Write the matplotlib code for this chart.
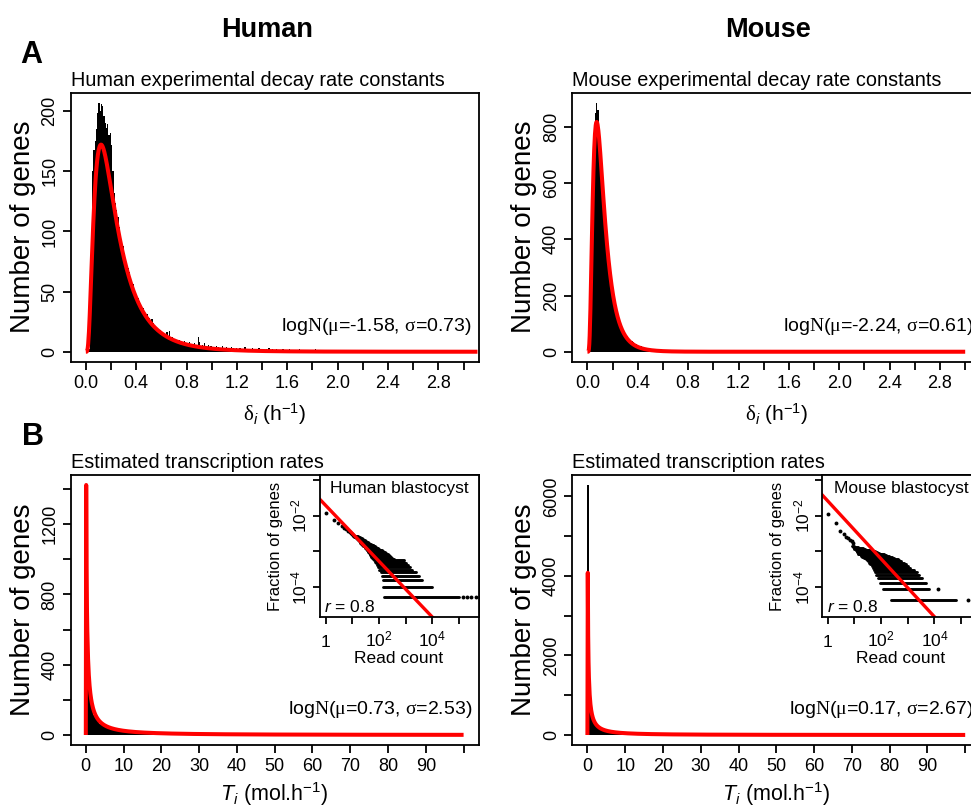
import numpy as np
import matplotlib
matplotlib.use('Agg')
import matplotlib.pyplot as plt
from matplotlib.ticker import NullLocator
from matplotlib.transforms import blended_transform_factory

plt.rcParams['font.family'] = ['Liberation Sans', 'DejaVu Sans']
plt.rcParams['mathtext.fontset'] = 'custom'
plt.rcParams['mathtext.rm'] = 'Liberation Serif'
plt.rcParams['mathtext.it'] = 'Liberation Sans:italic'
plt.rcParams['mathtext.sf'] = 'Liberation Sans'
plt.rcParams['mathtext.bf'] = 'Liberation Sans:bold'

# ---------------- data ----------------
# Panel A: decay rate constants histograms (bin width 0.01 h^-1, from 0)
decay_bin_width = 0.01
human_decay_counts = [
    0, 0, 2, 40, 100, 150, 168, 175, 185, 198,
    207, 200, 206, 204, 196, 190, 186, 189, 180, 182,
    172, 150, 132, 124, 118, 112, 104, 98, 92, 88,
    82, 78, 74, 70, 66, 62, 58, 56, 52, 50,
    47, 45, 42, 40, 38, 36, 34, 32, 31, 29,
    28, 26, 27, 24, 22, 21, 20, 19, 17, 18,
    16, 15, 15, 14, 16, 13, 17, 11, 12, 10,
    10, 11, 9, 9, 10, 8, 8, 7, 9, 7,
    7, 6, 8, 6, 6, 5, 7, 6, 5, 12,
    8, 5, 6, 5, 7, 5, 4, 6, 4, 5,
    4, 4, 3, 5, 3, 4, 3, 3, 5, 2, 3, 4, 2, 3, 3, 4, 2, 3, 2, 3,
    2, 2, 3, 2, 2, 1, 4, 2, 1, 2, 2, 1, 3, 1, 2, 1, 2, 3, 1, 1,
    2, 1, 1, 2, 1, 3, 1, 1, 2, 1,
    1, 2, 1, 0, 1, 1, 2, 0, 1, 1, 0, 2, 1, 1, 0, 1, 1, 0, 1, 2,
    0, 1, 0, 1, 1, 0, 1, 0, 1, 1,
    0, 1, 2, 0, 1, 0, 0, 1, 1, 0, 1, 0, 1, 0, 0, 1, 0, 1, 1, 0,
    0, 1, 0, 1, 0, 0, 1, 0, 1, 0,
    1, 0, 0, 1, 0, 1, 0, 0, 1, 0, 0, 1, 0, 1, 0, 0, 0, 1, 0, 1,
    0, 0, 1, 0, 0, 1, 0, 0, 1, 0,
    0, 1, 0, 0, 1, 0, 0, 0, 1, 0, 1, 0, 0, 0, 1, 0, 0, 1, 0, 0,
    0, 1, 0, 0, 1, 0, 0, 0, 1, 0,
    0, 1, 0, 0, 0, 1, 0, 0, 1, 0, 0, 0, 1, 0, 0, 0, 1, 0, 0, 1,
    0, 0, 0, 1, 0, 0, 0, 1, 0, 1,
]
mouse_decay_counts = [
    0, 40, 200, 450, 680, 800, 850, 886, 860, 790,
    700, 630, 560, 500, 445, 392, 345, 302, 265, 232,
    204, 180, 158, 140, 124, 110, 98, 88, 78, 70,
    62, 56, 50, 45, 41, 37, 33, 30, 27, 25,
    22, 20, 19, 17, 16, 14, 13, 12, 11, 10,
    9, 8, 8, 7, 7, 6, 6, 5, 5, 4,
    4, 4, 3, 4, 3, 3, 3, 2, 3, 2,
    2, 2, 2, 1, 2, 1, 1, 1, 2, 1,
    1, 1, 0, 1, 1, 0, 1, 1, 0, 1, 0, 1, 0, 0, 1, 0, 0, 1, 0, 0,
    1, 0, 0, 1, 0, 0, 0, 1, 0, 0, 0, 1, 0, 0, 0, 0, 1, 0, 0, 0,
    0, 0, 1, 0, 0, 0, 0, 0, 1, 0, 0, 0, 0, 1, 0, 0, 0, 0, 0, 0,
    1, 0, 0, 0, 0, 0, 0, 1, 0, 0, 0, 0, 0, 0, 0, 1, 0, 0, 0, 0,
    0, 0, 0, 1, 0, 0, 0, 0, 0, 0, 0, 0, 1, 0, 0, 0, 0, 0, 0, 0,
    0, 1, 0, 0, 0, 0, 0, 0, 0, 0, 1, 0, 0, 0, 0, 0, 0, 0, 0, 1,
    0, 0, 0, 0, 0, 0, 0, 0, 0, 0, 0, 1, 0, 0, 0, 0, 0, 0, 0, 0,
    0, 0, 0, 0, 0, 1, 0, 0, 0, 0, 0, 0, 0, 0, 0, 0, 0, 0, 0, 1,
    0, 0, 0, 0, 0, 0, 0, 0, 0, 0, 0, 0, 0, 1, 0, 0, 0, 0, 0, 0,
    0, 0, 0, 0, 0, 0, 0, 0, 0, 0, 0, 0, 0, 0, 0, 0, 1, 0, 0, 0,
    0, 0, 0, 0, 0, 0, 0, 0, 0, 0, 0, 0, 0, 0, 0, 0, 0, 0, 0, 1,
]
# lognormal fits (mu, sigma) and the scaling (genes x bin width) of the fitted curve
human_decay_fit = (-1.58, 0.73, 49.7)
mouse_decay_fit = (-2.24, 0.61, 110.5)

# Panel B: transcription rate histograms (bin width 0.4 mol/h, from 0)
transc_bin_width = 0.4
human_transc_counts = [
    1418, 380, 245, 180, 142, 116, 97, 83, 72, 64,
    58, 52, 48, 44, 40, 37, 35, 32, 30, 29,
    27, 26, 24, 23, 22, 21, 20, 19, 19, 18,
    17, 17, 16, 15, 15, 14, 14, 13, 13, 12,
    12, 12, 11, 11, 11, 10, 10, 10, 9, 9,
    9, 9, 8, 8, 8, 8, 8, 7, 7, 7,
    7, 7, 7, 6, 6, 6, 6, 6, 6, 6,
    5, 6, 5, 5, 5, 5, 5, 5, 5, 4,
    5, 4, 4, 4, 5, 4, 4, 4, 4, 4,
    3, 4, 4, 3, 4, 3, 3, 4, 3, 3,
    3, 3, 3, 3, 3, 3, 2, 3, 3, 3,
    2, 3, 2, 3, 3, 2, 2, 3, 2, 2,
    3, 2, 2, 2, 3, 2, 2, 2, 2, 2,
    2, 2, 1, 2, 2, 2, 2, 1, 2, 2,
    2, 1, 2, 2, 1, 2, 2, 2, 1, 2,
    1, 2, 1, 2, 1, 1, 2, 1, 2, 1,
    1, 2, 1, 1, 2, 1, 1, 1, 2, 1,
    1, 1, 2, 1, 1, 1, 1, 2, 1, 1,
    1, 1, 1, 2, 1, 1, 1, 1, 1, 1,
    2, 1, 1, 1, 1, 1, 0, 1, 1, 1,
    1, 1, 1, 0, 1, 1, 1, 1, 0, 1,
    1, 1, 0, 1, 1, 1, 0, 1, 1, 0,
    1, 1, 1, 0, 1, 0, 1, 1, 0, 1,
    1, 0, 1, 1, 0, 1, 0, 1, 1, 0,
    1, 0, 1, 0, 1, 1, 0, 1, 0, 1,
]
mouse_transc_counts = [
    6284, 850, 530, 380, 290, 235, 195, 165, 145, 128,
    115, 104, 92, 84, 78, 72, 67, 63, 59, 56,
    53, 50, 48, 45, 43, 41, 39, 38, 36, 35,
    33, 32, 31, 30, 29, 28, 27, 26, 25, 24,
    24, 23, 22, 22, 21, 20, 20, 19, 19, 18,
    18, 17, 17, 16, 16, 16, 15, 15, 15, 14,
    14, 14, 13, 13, 13, 12, 12, 12, 12, 11,
    11, 11, 11, 10, 10, 10, 10, 10, 9, 9,
    9, 9, 9, 9, 8, 8, 8, 8, 8, 8,
    7, 7, 7, 7, 7, 7, 7, 6, 6, 6,
    6, 6, 6, 6, 6, 6, 5, 5, 5, 5,
    5, 5, 5, 5, 5, 5, 4, 4, 4, 4,
    4, 4, 4, 4, 4, 4, 4, 4, 4, 4,
    3, 3, 3, 3, 3, 3, 3, 3, 3, 3,
    3, 3, 3, 3, 3, 3, 3, 3, 3, 3,
    3, 3, 2, 3, 3, 2, 3, 2, 3, 2,
    2, 3, 2, 2, 3, 2, 2, 2, 3, 2,
    2, 2, 2, 3, 2, 2, 2, 2, 2, 2,
    2, 2, 2, 2, 2, 1, 2, 2, 2, 2,
    2, 2, 1, 2, 2, 2, 1, 2, 2, 2,
    1, 2, 2, 1, 2, 2, 1, 2, 1, 2,
    2, 1, 2, 1, 2, 1, 2, 2, 1, 2,
    1, 2, 1, 2, 1, 1, 2, 1, 2, 1,
    1, 2, 1, 1, 2, 1, 1, 2, 1, 1,
    2, 1, 1, 1, 2, 1, 1, 1, 2, 1,
]
human_transc_fit = (0.73, 2.53, 1850.0)
mouse_transc_fit = (0.17, 2.67, 4190.0)

# Insets: read-count frequency (number of genes k sharing a read count)
human_total_genes = 19500
human_low_reads = [1, 2, 3, 4, 5, 6, 7, 8, 9, 10, 11]
human_low_k = [234, 155, 120, 102, 91, 82, 76, 70, 66, 61, 58]
human_row_k = [1, 2, 3, 4, 5, 6, 7, 8, 9, 10, 11, 12, 13, 14, 15, 16, 17, 18, 19, 20,
               21, 22, 23, 24, 25, 26, 27, 28, 29, 30, 32, 34, 36, 38, 40, 43, 46, 50, 54]
human_row_lo = [155, 148, 141, 132, 120, 105, 95, 85, 76, 69, 63, 60, 56, 52, 50, 48, 45, 43, 40, 38,
                37, 35, 33, 32, 30, 29, 27, 26, 25, 24, 22, 20, 19, 18, 17, 15, 14, 12, 11]
human_row_hi = [100000, 9550, 4270, 3160, 2400, 1780, 1410, 1200, 1000, 870, 870, 355, 316, 282, 250,
                230, 215, 190, 166, 141, 126, 112, 102, 93, 86, 79, 73, 68, 62, 58, 50, 43, 38, 34,
                30, 26, 23, 19, 16]
human_sparse_reads = [140000, 200000, 280000, 440000]
human_sparse_k = [1, 1, 1, 1]
human_powerlaw = (-1.698, -0.787)   # log10 intercept, slope

mouse_total_genes = 22900
mouse_low_reads = [1, 2, 3, 4, 5, 6, 7, 8, 9]
mouse_low_k = [257, 148, 87, 72, 60, 54, 49, 45, 41]
mouse_row_k = [1, 2, 3, 4, 5, 6, 7, 8, 9, 10, 11, 12, 13, 14, 15, 16, 17, 18, 19, 20,
               21, 22, 23, 24, 25, 26, 27, 28, 30, 33]
mouse_row_lo = [245, 120, 89, 74, 66, 60, 56, 50, 47, 40, 36, 31, 29, 27, 22, 20, 18, 17, 15, 14,
                14, 13, 12, 12, 11, 11, 10, 10, 9, 8]
mouse_row_hi = [66000, 6460, 4900, 3550, 2690, 2140, 1660, 1260, 1000, 830, 710, 575, 480, 417, 316,
                250, 200, 158, 126, 100, 85, 71, 58, 48, 40, 32, 26, 21, 14, 10]
mouse_sparse_reads = [182000, 13500]
mouse_sparse_k = [1, 2]
mouse_powerlaw = (-1.576, -0.816)

# ---------------- figure ----------------
W, H = 971, 809
fig = plt.figure(figsize=(W / 100, H / 100), dpi=100)


def rect_px(left, top, width, height):
    return [left / W, 1 - (top + height) / H, width / W, height / H]


def dlnorm(x, mu, s):
    out = np.zeros_like(x)
    m = x > 0
    out[m] = np.exp(-(np.log(x[m]) - mu) ** 2 / (2 * s * s)) / (x[m] * s * np.sqrt(2 * np.pi))
    return out


TICK_LEN = 5.8
LW_BOX = 1.3


def main_panel(rect, counts, bw, fit, curve_end, xlim, xticks, xlabels, yticks, ylabels,
               subtitle, fit_text):
    ax = fig.add_axes(rect)
    counts = np.asarray(counts, dtype=float)
    edges = bw * np.arange(len(counts) + 1)
    ax.stairs(counts, edges, fill=True, color='black', lw=0)
    mu, s, scale = fit
    xs = np.linspace(0, curve_end, 1001)
    ys = scale * dlnorm(xs, mu, s)
    ax.plot(xs, ys, color='#ff0000', lw=2.9, solid_capstyle='butt', solid_joinstyle='round')
    ymax = max(counts.max(), ys.max())
    ax.set_ylim(-0.04 * ymax, 1.04 * ymax)
    ax.set_xlim(*xlim)
    ax.set_xticks(xticks)
    ax.set_xticklabels(xlabels)
    ax.set_yticks(yticks)
    ax.set_yticklabels(ylabels)
    for lab in ax.get_yticklabels():
        lab.set_rotation(90)
        lab.set_va('center')
    ax.tick_params(axis='both', direction='out', length=TICK_LEN, width=LW_BOX,
                   labelsize=13)
    ax.tick_params(axis='x', pad=3.5)
    ax.tick_params(axis='y', pad=3.2)
    for sp in ax.spines.values():
        sp.set_linewidth(LW_BOX)
    ax.annotate(subtitle, xy=(0, 1), xycoords='axes fraction', xytext=(0, 4.8),
                textcoords='offset points', ha='left', va='baseline', fontsize=14.3)
    ax.text(1 - 6.7 / 408, 31 / 269, fit_text, transform=ax.transAxes, ha='right',
            va='baseline', fontsize=14)
    return ax


def inset_panel(rect, total, low_reads, low_k, row_k, row_lo, row_hi, sp_reads, sp_k,
                powerlaw, title):
    ax = fig.add_axes(rect)
    ax.set_facecolor('white')
    ax.set_xscale('log')
    ax.set_yscale('log')
    xl = (10 ** -0.226, 10 ** 5.74)
    yl = (10 ** -4.845, 10 ** -0.851)
    ax.set_xlim(*xl)
    ax.set_ylim(*yl)
    tot = float(total)
    ax.hlines(np.asarray(row_k) / tot, row_lo, row_hi, colors='black', lw=2.1,
              capstyle='round')
    ax.plot(low_reads, np.asarray(low_k) / tot, 'o', color='black', ms=2.8, mew=0)
    ax.plot(sp_reads, np.asarray(sp_k) / tot, 'o', color='black', ms=2.8, mew=0)
    a, b = powerlaw
    lx = np.array([-1.0, 7.0])
    ax.plot(10 ** lx, 10 ** (a + b * lx), color='#ff0000', lw=2.4, solid_capstyle='butt')
    xt = [1, 10, 100, 1e3, 1e4, 1e5]
    xt_lab = ['1', '', r'$\mathsf{10^{2}}$', '', r'$\mathsf{10^{4}}$', '']
    ax.set_xticks(xt)
    ax.set_xticklabels([''] * len(xt))
    ax.xaxis.set_minor_locator(NullLocator())
    trans = blended_transform_factory(ax.transData, ax.transAxes)
    for t, lab in zip(xt, xt_lab):
        if lab:
            ax.text(t, -(646.7 - 617) / 141.8, lab, transform=trans, ha='center',
                    va='baseline', fontsize=12.5, clip_on=False)
    ax.set_yticks([1e-1, 1e-2, 1e-3, 1e-4])
    ax.set_yticklabels(['', r'$\mathsf{10^{-2}}$', '', r'$\mathsf{10^{-4}}$'])
    ax.yaxis.set_minor_locator(NullLocator())
    for lab in ax.get_yticklabels():
        lab.set_rotation(90)
        lab.set_va('center')
    ax.tick_params(axis='both', direction='out', length=5.0, width=LW_BOX, labelsize=12.5)
    ax.tick_params(axis='y', pad=2.0)
    for sp in ax.spines.values():
        sp.set_linewidth(LW_BOX)
    ax.text(0.5, 1 - 18 / 141.8, title, transform=ax.transAxes, ha='center',
            va='baseline', fontsize=12.5)
    ax.text(4.8 / 159.2, 5.3 / 141.8, r'$\mathit{r}$ = 0.8', transform=ax.transAxes,
            ha='left', va='baseline', fontsize=12.5)
    return ax


a_xticks = [round(0.2 * i, 1) for i in range(16)]
a_xlabels = ['%.1f' % t if i % 2 == 0 and i < 15 else '' for i, t in enumerate(a_xticks)]
b_xticks = list(range(0, 101, 10))
b_xlabels = [str(t) if t < 100 else '' for t in b_xticks]

decay_xlabel = r'$\mathrm{\delta}_{\mathit{i}}$ (h$^{\mathsf{-1}}$)'
transc_xlabel = r'$\mathit{T}_{\mathit{i}}$ (mol.h$^{\mathsf{-1}}$)'

# Human A
main_panel(rect_px(70.7, 92.7, 408, 269), human_decay_counts, decay_bin_width, human_decay_fit,
           3.11, (-0.12, 3.12), a_xticks, a_xlabels,
           [0, 50, 100, 150, 200], ['0', '50', '100', '150', '200'],
           'Human experimental decay rate constants',
           r'log$\mathrm{N}$($\mathrm{\mu}$=-1.58, $\mathrm{\sigma}$=0.73)')
# Mouse A
main_panel(rect_px(572.3, 92.7, 408, 269), mouse_decay_counts, decay_bin_width, mouse_decay_fit,
           3.0, (-0.12, 3.12), a_xticks, a_xlabels,
           [0, 200, 400, 600, 800], ['0', '200', '400', '600', '800'],
           'Mouse experimental decay rate constants',
           r'log$\mathrm{N}$($\mathrm{\mu}$=-2.24, $\mathrm{\sigma}$=0.61)')
# Human B
main_panel(rect_px(70.7, 475, 408, 270), human_transc_counts, transc_bin_width, human_transc_fit,
           100, (-4, 104), b_xticks, b_xlabels,
           list(range(0, 1401, 200)), ['0', '', '400', '', '800', '', '1200', ''],
           'Estimated transcription rates',
           r'log$\mathrm{N}$($\mathrm{\mu}$=0.73, $\mathrm{\sigma}$=2.53)')
# Mouse B
main_panel(rect_px(572.3, 475, 408, 270), mouse_transc_counts, transc_bin_width, mouse_transc_fit,
           100, (-4, 104), b_xticks, b_xlabels,
           list(range(0, 6001, 1000)), ['0', '', '2000', '', '4000', '', '6000'],
           'Estimated transcription rates',
           r'log$\mathrm{N}$($\mathrm{\mu}$=0.17, $\mathrm{\sigma}$=2.67)')

# Insets
inset_panel(rect_px(319.5, 475.2, 159.2, 141.8), human_total_genes, human_low_reads, human_low_k,
            human_row_k, human_row_lo, human_row_hi, human_sparse_reads, human_sparse_k,
            human_powerlaw, 'Human blastocyst')
inset_panel(rect_px(821.7, 475.2, 159.2, 141.8), mouse_total_genes, mouse_low_reads, mouse_low_k,
            mouse_row_k, mouse_row_lo, mouse_row_hi, mouse_sparse_reads, mouse_sparse_k,
            mouse_powerlaw, 'Mouse blastocyst')

# Figure-level texts
def ftext(x, y, s, **kw):
    fig.text(x / W, 1 - y / H, s, **kw)

ftext(267, 36.7, 'Human', ha='center', va='baseline', fontsize=19.5, fontweight='bold')
ftext(768, 36.7, 'Mouse', ha='center', va='baseline', fontsize=19.5, fontweight='bold')
ftext(20.7, 63.3, 'A', ha='left', va='baseline', fontsize=22, fontweight='bold')
ftext(21.7, 445, 'B', ha='left', va='baseline', fontsize=22, fontweight='bold')
for x, y in [(23, 227.2), (524, 227.2), (23, 610), (524, 610)]:
    ftext(x, y, 'Number of genes', ha='center', va='center', rotation=90, fontsize=20)
ftext(274.7, 421, decay_xlabel, ha='center', va='baseline', fontsize=15)
ftext(776.3, 421, decay_xlabel, ha='center', va='baseline', fontsize=15)
ftext(274.7, 801, transc_xlabel, ha='center', va='baseline', fontsize=15.5)
ftext(776.3, 801, transc_xlabel, ha='center', va='baseline', fontsize=15.5)
ftext(399, 663.3, 'Read count', ha='center', va='baseline', fontsize=12.5)
ftext(901, 663.3, 'Read count', ha='center', va='baseline', fontsize=12.5)
ftext(275.8, 546, 'Fraction of genes', ha='center', va='center', rotation=90, fontsize=12)
ftext(777.5, 546, 'Fraction of genes', ha='center', va='center', rotation=90, fontsize=12)

fig.savefig('out.png', dpi=100)
